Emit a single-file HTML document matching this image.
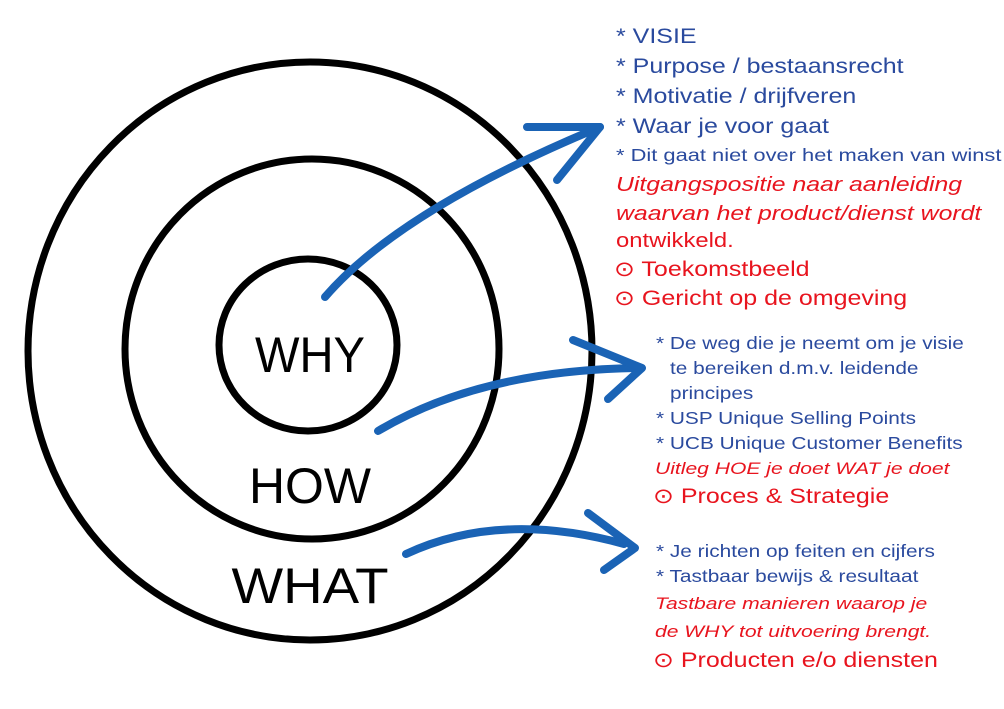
<!DOCTYPE html>
<html><head><meta charset="utf-8"><style>
body{margin:0;width:1004px;height:709px;background:#fff;overflow:hidden;position:relative;font-family:"Liberation Sans",sans-serif}
.t{position:absolute;white-space:nowrap;line-height:1;transform-origin:0 0;transform:scaleX(1.19)}
.b{color:#2a4a9e}.r{color:#e8141e}.i{font-style:italic;transform:scaleX(1.24)}
.w{transform:scaleX(1.25)}
</style></head><body>
<svg width="1004" height="709" style="position:absolute;left:0;top:0">
<g fill="none" stroke="#000" stroke-width="7">
<ellipse cx="310" cy="351" rx="282" ry="289"/>
<ellipse cx="312" cy="349" rx="187" ry="190"/>
<ellipse cx="308" cy="345" rx="89" ry="86"/>
</g>
<g fill="none" stroke="#1a63b5" stroke-width="8" stroke-linecap="round" stroke-linejoin="round">
<path d="M325 297 Q400 210 600 127"/><path d="M527 127 L600 127 L557 180"/>
<path d="M378 431 Q480 370 640 368"/><path d="M573 340 L642 368 L608 399"/>
<path d="M406 554 Q500 510 624 544"/><path d="M588 513 L635 548 L604 570"/>
</g>
<g font-family="Liberation Sans,sans-serif" font-size="50" fill="#000" text-anchor="middle">
<text x="310" y="372" textLength="110" lengthAdjust="spacingAndGlyphs">WHY</text>
<text x="310" y="503" textLength="122" lengthAdjust="spacingAndGlyphs">HOW</text>
<text x="310" y="603" textLength="157" lengthAdjust="spacingAndGlyphs">WHAT</text>
</g>
</svg>
<div class="t b" style="left:616px;top:26px;font-size:21px">* VISIE</div>
<div class="t b" style="left:616px;top:56px;font-size:21px">* Purpose / bestaansrecht</div>
<div class="t b" style="left:616px;top:86px;font-size:21px">* Motivatie / drijfveren</div>
<div class="t b" style="left:616px;top:116px;font-size:21px">* Waar je voor gaat</div>
<div class="t b w" style="left:616px;top:147px;font-size:17.5px">* Dit gaat niet over het maken van winst</div>
<div class="t r i" style="left:616px;top:175px;font-size:20px">Uitgangspositie naar aanleiding</div>
<div class="t r i" style="left:616px;top:204px;font-size:20px">waarvan het product/dienst wordt</div>
<div class="t r" style="left:616px;top:231px;font-size:20px">ontwikkeld.</div>
<div class="t r" style="left:614px;top:259px;font-size:21px">⊙ Toekomstbeeld</div>
<div class="t r" style="left:614px;top:288px;font-size:21px">⊙ Gericht op de omgeving</div>

<div class="t b" style="left:656px;top:335px;font-size:17.5px">* De weg die je neemt om je visie</div>
<div class="t b" style="left:670px;top:360px;font-size:17.5px">te bereiken d.m.v. leidende</div>
<div class="t b" style="left:670px;top:385px;font-size:17.5px">principes</div>
<div class="t b" style="left:656px;top:410px;font-size:17.5px">* USP Unique Selling Points</div>
<div class="t b" style="left:656px;top:435px;font-size:17.5px">* UCB Unique Customer Benefits</div>
<div class="t r i" style="left:655px;top:460px;font-size:17px">Uitleg HOE je doet WAT je doet</div>
<div class="t r" style="left:653px;top:486px;font-size:21px">⊙ Proces &amp; Strategie</div>

<div class="t b" style="left:656px;top:543px;font-size:17.5px">* Je richten op feiten en cijfers</div>
<div class="t b" style="left:656px;top:568px;font-size:17.5px">* Tastbaar bewijs &amp; resultaat</div>
<div class="t r i" style="left:655px;top:595px;font-size:17px">Tastbare manieren waarop je</div>
<div class="t r i" style="left:655px;top:623px;font-size:17px">de WHY tot uitvoering brengt.</div>
<div class="t r" style="left:653px;top:650px;font-size:21px">⊙ Producten e/o diensten</div>
</body></html>
